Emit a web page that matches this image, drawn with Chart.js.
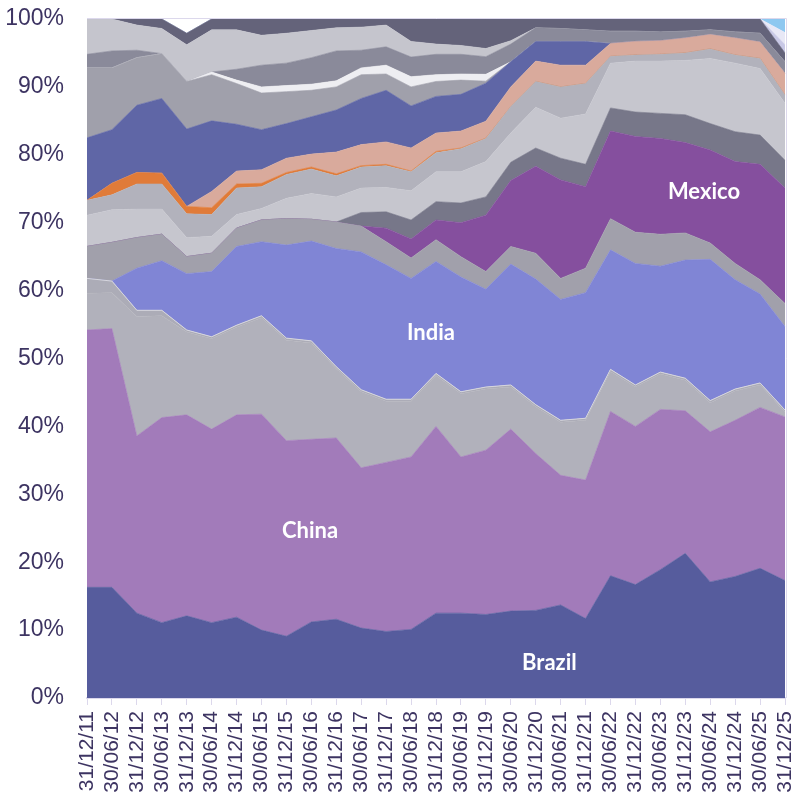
<!DOCTYPE html>
<html>
<head>
<meta charset="utf-8">
<script src="https://cdn.jsdelivr.net/npm/chart.js@4.4.1/dist/chart.umd.min.js"></script>
<style>
  html, body { margin: 0; padding: 0; background: #ffffff; }
  #wrap { width: 797px; height: 801px; }
</style>
</head>
<body>
<div id="wrap"><canvas id="areaChart" width="797" height="801"></canvas></div>
<script>
const dates = [
  '31/12/11', '30/06/12', '31/12/12', '30/06/13', '31/12/13', '30/06/14', '31/12/14', '30/06/15',
  '31/12/15', '30/06/16', '31/12/16', '30/06/17', '31/12/17', '30/06/18', '31/12/18', '30/06/19',
  '31/12/19', '30/06/20', '31/12/20', '30/06/21', '31/12/21', '30/06/22', '31/12/22', '30/06/23',
  '31/12/23', '30/06/24', '31/12/24', '30/06/25', '31/12/25'
];

const yTicks = [0, 10, 20, 30, 40, 50, 60, 70, 80, 90, 100];

// shares in %, bottom of the stack first
const brazil = [16.3, 16.3, 12.5, 11.1, 12.1, 11.1, 11.9, 10.0, 9.1, 11.2, 11.6, 10.3, 9.8, 10.1, 12.5, 12.5, 12.3, 12.8, 12.9, 13.7, 11.7, 18.0, 16.7, 18.9, 21.3, 17.1, 17.9, 19.1, 17.3];
const china = [37.9, 38.1, 26.1, 30.2, 29.6, 28.5, 29.8, 31.8, 28.8, 26.9, 26.7, 23.6, 24.9, 25.4, 27.5, 23.0, 24.2, 26.8, 23.1, 19.1, 20.4, 24.2, 23.3, 23.6, 21.0, 22.1, 23.0, 23.7, 24.1];
const grayA = [5.4, 5.3, 17.6, 15.0, 12.2, 13.3, 12.9, 14.2, 14.8, 14.2, 10.2, 11.2, 9.0, 8.2, 7.5, 9.3, 9.0, 6.2, 6.9, 7.8, 8.8, 5.9, 5.8, 5.2, 4.5, 4.3, 4.3, 3.3, 0.7];
const grayB = [2.2, 1.7, 0.9, 0.8, 0.3, 0.3, 0.3, 0.3, 0.3, 0.3, 0.3, 0.3, 0.3, 0.3, 0.3, 0.3, 0.3, 0.3, 0.3, 0.3, 0.3, 0.3, 0.3, 0.3, 0.3, 0.3, 0.3, 0.3, 0.3];
const india = [0, 0, 6.2, 7.3, 8.3, 9.6, 11.6, 10.9, 13.7, 14.7, 17.4, 20.3, 19.8, 17.8, 16.5, 16.9, 14.4, 17.8, 18.5, 17.8, 18.5, 17.6, 17.9, 15.6, 17.4, 20.8, 16.1, 13.1, 12.3];
const grayC = [4.7, 5.7, 4.5, 3.9, 2.5, 2.7, 2.7, 3.2, 3.9, 3.2, 3.9, 3.8, 3.4, 3.0, 3.2, 3.0, 2.6, 2.6, 3.8, 3.1, 3.6, 4.6, 4.6, 4.7, 4.0, 2.4, 2.4, 2.1, 3.4];
const mexico = [0, 0, 0, 0, 0, 0, 0, 0, 0, 0, 0, 0, 2.0, 2.8, 2.9, 5.0, 8.3, 9.7, 12.8, 14.5, 12.0, 12.9, 14.1, 14.1, 13.3, 13.7, 15.0, 17.0, 17.0];
const grayD = [0, 0, 0, 0, 0, 0, 0, 0, 0, 0, 0, 2.0, 2.4, 2.8, 2.7, 2.9, 2.7, 2.7, 2.7, 3.2, 3.3, 3.4, 3.6, 3.7, 4.1, 3.9, 4.4, 4.3, 4.1];
const grayE = [4.6, 4.8, 4.2, 3.7, 2.8, 2.5, 2.0, 1.7, 3.0, 3.8, 3.7, 3.6, 3.6, 4.3, 4.4, 4.6, 5.2, 4.3, 6.0, 5.9, 7.4, 6.6, 7.5, 7.7, 8.0, 9.6, 10.1, 9.8, 8.4];
const grayF = [2.2, 2.2, 3.7, 3.7, 3.5, 3.2, 3.9, 3.2, 3.5, 3.6, 3.1, 3.1, 3.2, 2.8, 2.8, 3.4, 3.4, 3.9, 3.8, 4.6, 4.5, 1.0, 0.9, 1.0, 1.1, 1.4, 1.2, 1.5, 1.2];
const orange = [0, 1.7, 1.7, 1.6, 1.1, 1.0, 0.6, 0.5, 0.3, 0.3, 0.3, 0.2, 0.2, 0.1, 0.2, 0.1, 0.05, 0, 0, 0, 0, 0, 0, 0, 0, 0, 0, 0, 0];
const salmon = [0, 0, 0, 0, 0, 2.4, 1.9, 2.0, 2.1, 1.9, 3.2, 3.1, 3.3, 3.4, 2.7, 2.5, 2.5, 2.9, 3.0, 3.2, 2.7, 1.9, 2.0, 2.0, 2.2, 2.1, 2.5, 2.4, 3.2];
const blue = [9.2, 7.9, 9.9, 11.0, 11.4, 10.4, 6.9, 5.9, 5.1, 5.5, 6.2, 6.8, 7.6, 6.2, 5.4, 5.4, 5.6, 3.7, 2.9, 3.5, 3.5, 0, 0, 0, 0, 0, 0, 0, 0];
const grayG = [10.3, 9.1, 7.0, 6.6, 7.0, 6.8, 6.0, 5.4, 4.7, 3.9, 3.4, 3.5, 2.4, 2.8, 2.2, 2.1, 0.3, 0, 0, 0, 0, 0, 0, 0, 0, 0, 0, 0, 0];
const whiteBand = [0, 0, 0, 0, 0, 0.4, 0.5, 0.9, 0.9, 0.9, 0.9, 1.0, 1.3, 1.5, 1.0, 0.9, 1.0, 0, 0, 0, 0, 0, 0, 0, 0, 0, 0, 0, 0];
const grayH = [2.0, 2.5, 1.1, 0, 0, 0, 1.6, 3.2, 3.3, 3.9, 4.4, 2.6, 2.7, 2.9, 3.0, 2.9, 2.6, 2.6, 2.0, 1.9, 1.7, 1.8, 1.5, 1.3, 1.0, 0.7, 0.9, 1.3, 1.7];
const grayI = [5.2, 4.7, 3.7, 3.7, 5.4, 6.2, 5.8, 4.4, 4.4, 4.0, 3.4, 3.4, 3.2, 2.3, 1.5, 1.3, 1.2, 0.5, 0, 0, 0, 0, 0, 0, 0, 0, 0, 0, 0];
const grayJ = [0, 0, 0.9, 1.4, 1.7, 1.6, 1.6, 2.4, 2.1, 1.7, 1.3, 1.2, 0.9, 3.3, 3.7, 4.0, 4.4, 3.2, 1.3, 1.4, 1.6, 1.8, 1.8, 1.9, 1.8, 1.6, 1.9, 2.1, 1.3];
const lilacA = [0, 0, 0, 0, 0, 0, 0, 0, 0, 0, 0, 0, 0, 0, 0, 0, 0, 0, 0, 0, 0, 0, 0, 0, 0, 0, 0, 0, 1.2];
const lilacB = [0, 0, 0, 0, 0, 0, 0, 0, 0, 0, 0, 0, 0, 0, 0, 0, 0, 0, 0, 0, 0, 0, 0, 0, 0, 0, 0, 0, 1.8];
const skyBlue = [0, 0, 0, 0, 0, 0, 0, 0, 0, 0, 0, 0, 0, 0, 0, 0, 0, 0, 0, 0, 0, 0, 0, 0, 0, 0, 0, 0, 2.0];

// text written inside the areas: [text, x index, value]
const areaLabels = [
  ['China', 8.95, 24.6],
  ['India', 13.8, 53.8],
  ['Mexico', 24.75, 74.5],
  ['Brazil', 18.55, 5.15]
];

const layers = [
  { label: 'Brazil', data: brazil, color: '#565c9d' },
  { label: 'China', data: china, color: '#a27bba' },
  { label: 'Other 1', data: grayA, color: '#b1b1bb' },
  { label: 'Other 2', data: grayB, color: '#acacb7', line: '#d6d6dd' },
  { label: 'India', data: india, color: '#8085d5' },
  { label: 'Other 3', data: grayC, color: '#a1a0ab' },
  { label: 'Mexico', data: mexico, color: '#854f9e' },
  { label: 'Other 4', data: grayD, color: '#777789' },
  { label: 'Other 5', data: grayE, color: '#c6c6ce' },
  { label: 'Other 6', data: grayF, color: '#b2b2bc' },
  { label: 'Other 7', data: orange, color: '#e07b39' },
  { label: 'Other 8', data: salmon, color: '#d9aa9c' },
  { label: 'Other 9', data: blue, color: '#5f66a6' },
  { label: 'Other 10', data: grayG, color: '#a0a0ab' },
  { label: 'Other 11', data: whiteBand, color: '#eeeef2' },
  { label: 'Other 12', data: grayH, color: '#8a8a9a' },
  { label: 'Other 13', data: grayI, color: '#c5c5cd' },
  { label: 'Other 14', data: grayJ, color: '#64637a' },
  { label: 'Other 15', data: lilacA, color: '#c8c8e6' },
  { label: 'Other 16', data: lilacB, color: '#e8e8f6' },
  { label: 'Other 17', data: skyBlue, color: '#8ec8f0' }
];

const textColor = '#3d3462';
const axisColor = '#dcd8ec';

// white country names + thin frame on top and right of the plot
const extrasPlugin = {
  id: 'extras',
  afterDatasetsDraw(chart) {
    const ctx = chart.ctx;
    const area = chart.chartArea;
    const xs = chart.scales.x;
    const ys = chart.scales.y;
    ctx.save();
    ctx.strokeStyle = axisColor;
    ctx.lineWidth = 1;
    ctx.beginPath();
    ctx.moveTo(area.left, area.top - 0.5);
    ctx.lineTo(area.right + 1.5, area.top - 0.5);
    ctx.lineTo(area.right + 1.5, area.bottom);
    ctx.stroke();
    ctx.fillStyle = '#ffffff';
    ctx.font = 'bold 22px Lato, "Open Sans", sans-serif';
    ctx.textAlign = 'center';
    ctx.textBaseline = 'middle';
    areaLabels.forEach(item => {
      ctx.fillText(item[0], xs.getPixelForValue(item[1]), ys.getPixelForValue(item[2]));
    });
    ctx.restore();
  }
};

window.onload = function() {
  const ctx = document.getElementById('areaChart').getContext('2d');

  const datasets = layers.map((layer, i) => ({
    label: layer.label,
    data: layer.data,
    backgroundColor: layer.color,
    borderColor: layer.line || layer.color,
    borderWidth: layer.line ? 1 : 0.6,
    pointRadius: 0,
    tension: 0,
    fill: i === 0 ? 'origin' : '-1'
  }));

  new Chart(ctx, {
    type: 'line',
    data: { labels: dates, datasets: datasets },
    options: {
      responsive: false,
      animation: false,
      devicePixelRatio: 1,
      layout: { padding: { top: 19, right: 12, left: 0, bottom: 0 } },
      plugins: {
        legend: { display: false },
        tooltip: { enabled: false }
      },
      scales: {
        x: {
          offset: false,
          grid: { display: true, drawOnChartArea: false, drawTicks: true, tickLength: 7, color: axisColor },
          border: { display: true, color: axisColor, width: 2 },
          ticks: {
            autoSkip: false,
            minRotation: 90,
            maxRotation: 90,
            padding: 6,
            color: textColor,
            font: { family: 'Arial, "Liberation Sans", sans-serif', size: 21 }
          },
          afterFit(scale) {
            scale.height = 103;
            scale.paddingLeft = 0;
            scale.paddingRight = 0;
          }
        },
        y: {
          stacked: true,
          min: 0,
          max: 100,
          grid: { display: false, drawTicks: false },
          border: { display: false },
          afterBuildTicks(scale) { scale.ticks = yTicks.map(v => ({ value: v })); },
          ticks: {
            padding: 23,
            color: textColor,
            font: { family: 'Arial, "Liberation Sans", sans-serif', size: 23 },
            callback: v => v + '%'
          },
          afterFit(scale) {
            scale.width = 87;
            scale.paddingTop = 0;
            scale.paddingBottom = 0;
          }
        }
      }
    },
    plugins: [extrasPlugin]
  });
};
</script>
</body>
</html>
